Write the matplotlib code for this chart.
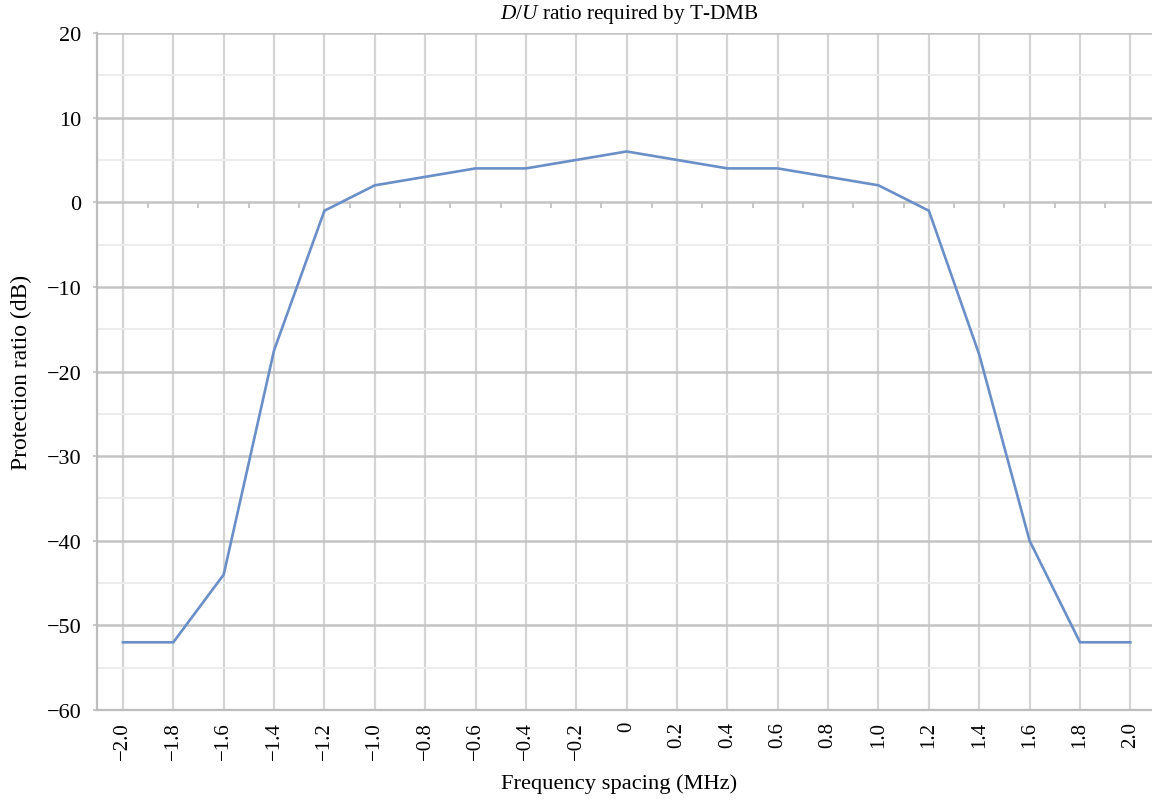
import numpy as np
import matplotlib.pyplot as plt
from matplotlib.ticker import MultipleLocator

plt.rcParams['font.family'] = ['Liberation Serif', 'DejaVu Serif']
plt.rcParams['mathtext.fontset'] = 'custom'
plt.rcParams['mathtext.it'] = 'Liberation Serif:italic'
plt.rcParams['mathtext.rm'] = 'Liberation Serif'
plt.rcParams['axes.unicode_minus'] = True

# frequency offsets (MHz) and required protection ratio (dB)
freq = [-2.0, -1.8, -1.6, -1.4, -1.2, -1.0, -0.8, -0.6, -0.4, -0.2, 0.0,
        0.2, 0.4, 0.6, 0.8, 1.0, 1.2, 1.4, 1.6, 1.8, 2.0]
ratio = [-52, -52, -44, -17.5, -1, 2, 3, 4, 4, 5, 6,
         5, 4, 4, 3, 2, -1, -18, -40, -52, -52]
tick_labels = ['\u22122.0', '\u22121.8', '\u22121.6', '\u22121.4', '\u22121.2',
               '\u22121.0', '\u22120.8', '\u22120.6', '\u22120.4', '\u22120.2', '0',
               '0.2', '0.4', '0.6', '0.8', '1.0', '1.2', '1.4', '1.6', '1.8', '2.0']

fig = plt.figure(figsize=(11.52, 8.03), dpi=100)
ax = fig.add_axes([97 / 1152, 1 - 711 / 803, 1 - 97 / 1152, (711 - 34) / 803])

ax.plot(freq, ratio, color='#6a8fc8', lw=1.9, zorder=3, solid_joinstyle='miter')

ax.set_xlim(-2.103, 2.086)
ax.set_ylim(-60, 20)

# grid: darker every 10 dB, faint every 5 dB, one vertical line per offset
ax.yaxis.set_major_locator(MultipleLocator(10))
ax.yaxis.set_minor_locator(MultipleLocator(5))
ax.grid(which='major', axis='y', color='#c4c4c4', lw=1.8)
ax.grid(which='minor', axis='y', color='#ececec', lw=1.4)
ax.set_xticks(freq, tick_labels, rotation=90)
ax.grid(which='major', axis='x', color='#d4d4d4', lw=1.6)
ax.set_axisbelow(True)

for side in ('top', 'right'):
    ax.spines[side].set_visible(False)
for side in ('left', 'bottom'):
    ax.spines[side].set_color('#bdbdbd')
    ax.spines[side].set_linewidth(1.6)

ax.tick_params(axis='y', which='major', length=3, width=1.2, color='#bdbdbd',
               labelsize=16, pad=8)
ax.tick_params(axis='y', which='minor', length=0)
ax.tick_params(axis='x', length=0, labelsize=15, pad=8)

# short category-boundary ticks along the zero line
mids = (np.array(freq[:-1]) + np.array(freq[1:])) / 2
zero_axis = ax.secondary_xaxis(60 / 80)
zero_axis.set_xticks(mids, [''] * len(mids))
zero_axis.spines['top'].set_visible(False)
zero_axis.spines['bottom'].set_visible(False)
zero_axis.tick_params(axis='x', direction='in', length=4, width=1.2, color='#bdbdbd')

ax.set_xlabel('Frequency spacing (MHz)', fontsize=16.2)
ax.xaxis.set_label_coords((619 - 97) / 1055, -(774 - 711) / 677)
ax.set_ylabel('Protection ratio (dB)', fontsize=17)
ax.yaxis.set_label_coords(-(97 - 32) / 1055, 0.5)
fig.text(629 / 1152, 1 - 14 / 803, r'$D/U$ ratio required by T-DMB', ha='center',
         va='center', fontsize=15.3)

fig.savefig('out.png', dpi=100)
